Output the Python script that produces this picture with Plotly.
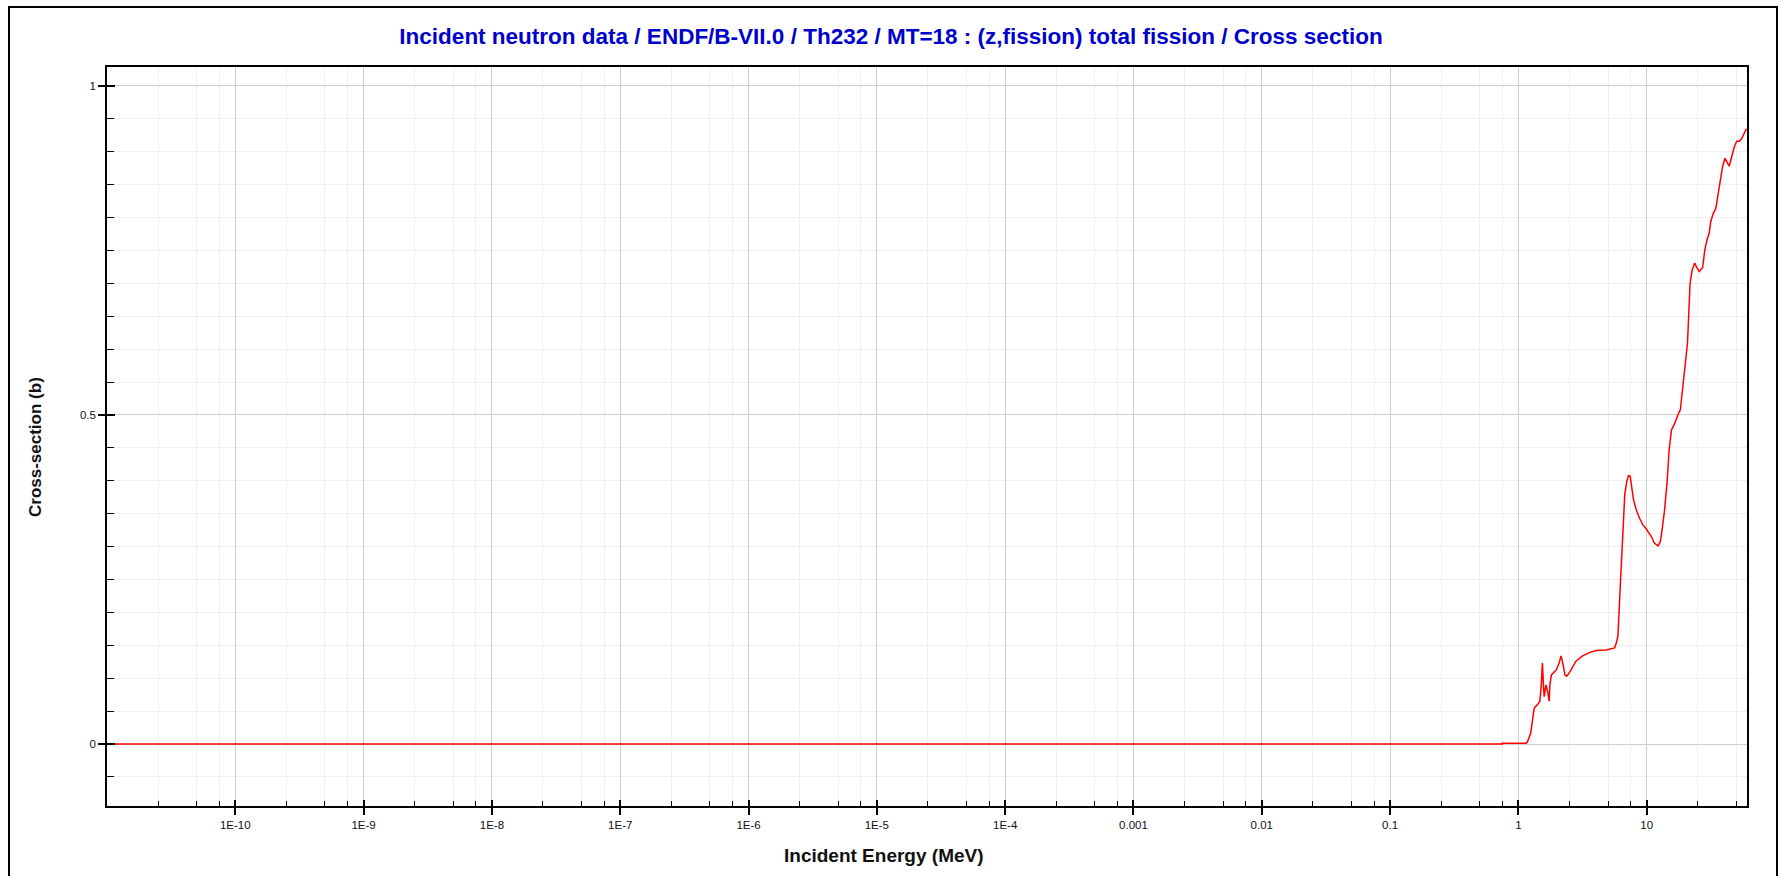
import plotly.graph_objects as go

# ---------------- data ----------------
energy_mev = [1e-11, 0.75, 0.75, 1.15, 1.176, 1.25, 1.29, 1.33, 1.41, 1.47, 1.51, 1.54,
              1.57, 1.59, 1.64, 1.69, 1.74, 1.76, 1.81, 1.90, 1.98, 2.08, 2.15, 2.22,
              2.31, 2.38, 2.53, 2.81, 3.17, 3.58, 4.03, 4.83, 5.62, 5.79, 5.97, 6.13,
              6.32, 6.45, 6.59, 6.75, 7.0, 7.22, 7.44, 7.62, 7.9, 8.3, 8.8, 9.34, 10.0,
              10.9, 11.5, 12.3, 12.8, 13.3, 13.8, 14.4, 14.97, 15.6, 16.6, 17.5, 18.3,
              18.9, 19.8, 20.8, 21.3, 21.8, 22.6, 23.7, 24.6, 25.7, 27.3, 28.4, 29.6,
              30.7, 31.6, 33.0, 34.6, 35.8, 37.3, 38.2, 39.1, 40.8, 42.3, 44.0, 45.9,
              48.3, 50.3, 52.8, 55.0, 57.5, 60.0]
cross_section_b = [0.0, 0.0, 0.0012, 0.0012, 0.003, 0.017, 0.037, 0.055, 0.060, 0.065, 0.090, 0.123,
                   0.088, 0.072, 0.090, 0.080, 0.065, 0.090, 0.105, 0.110, 0.113, 0.123, 0.134, 0.123,
                   0.105, 0.103, 0.110, 0.126, 0.134, 0.139, 0.142, 0.143, 0.146, 0.153, 0.164, 0.212,
                   0.265, 0.303, 0.351, 0.379, 0.399, 0.408, 0.407, 0.389, 0.371, 0.356, 0.343, 0.333, 0.326,
                   0.315, 0.305, 0.301, 0.308, 0.331, 0.356, 0.396, 0.447, 0.477, 0.488, 0.500, 0.508,
                   0.533, 0.566, 0.609, 0.655, 0.700, 0.720, 0.731, 0.724, 0.718, 0.724, 0.751, 0.767,
                   0.776, 0.794, 0.806, 0.814, 0.832, 0.847, 0.862, 0.878, 0.890, 0.885, 0.878, 0.892,
                   0.908, 0.916, 0.916, 0.920, 0.928, 0.935]

x_major_vals = [1e-10, 1e-9, 1e-8, 1e-7, 1e-6, 1e-5, 1e-4, 1e-3, 1e-2, 1e-1, 1, 10]
x_major_text = ["1E-10", "1E-9", "1E-8", "1E-7", "1E-6", "1E-5", "1E-4",
                "0.001", "0.01", "0.1", "1", "10"]
x_decades = [1e-11] + x_major_vals
x_minor_factors = [2.5, 5, 7.5]
x_minor_vals = [d * f for d in x_decades for f in x_minor_factors]

y_major_vals = [0, 0.5, 1]
y_major_text = ["0", "0.5", "1"]

title_text = "Incident neutron data / ENDF/B-VII.0 / Th232 / MT=18 : (z,fission) total fission / Cross section"
x_title = "Incident Energy (MeV)"
y_title = "Cross-section (b)"

x_range_log = [-11.0, 1.782]
y_range = [-0.0941, 1.0287]

# ---------------- layout geometry (pixels) ----------------
W, H = 1782, 876
ML, MR, MT, MB = 107, 35, 67, 70
pw, ph = W - ML - MR, H - MT - MB

def px_to_paper_x(px):
    return (px - ML) / pw

def px_to_paper_y(py):
    return (H - MB - py) / ph

FONT = "Liberation Sans, Arial, sans-serif"

fig = go.Figure()
fig.add_trace(go.Scatter(
    x=energy_mev, y=cross_section_b, mode="lines",
    line=dict(color="#ff0000", width=1.5), showlegend=False,
))
# helper trace so the overlay axes (inner halves of the major ticks) are drawn
fig.add_trace(go.Scatter(
    x=energy_mev, y=cross_section_b, mode="lines", xaxis="x2", yaxis="y2",
    line=dict(color="rgba(0,0,0,0)", width=0), showlegend=False, hoverinfo="skip",
))

fig.update_layout(
    width=W, height=H,
    margin=dict(l=ML, r=MR, t=MT, b=MB),
    paper_bgcolor="white", plot_bgcolor="white",
    font=dict(family=FONT, size=11.5, color="#111111"),
    title=dict(text="<b>" + title_text + "</b>", x=0.5, xref="container", xanchor="center",
               y=1 - 36 / H, yref="container", yanchor="middle",
               font=dict(family=FONT, size=22.5, color="#0000cc")),
    xaxis=dict(
        type="log", range=x_range_log,
        tickmode="array", tickvals=x_major_vals, ticktext=x_major_text,
        ticks="outside", ticklen=7, tickwidth=1.5, tickcolor="#000000",
        showgrid=True, gridcolor="#cdcdcd", gridwidth=1.2,
        minor=dict(tickmode="array", tickvals=x_minor_vals, ticks="inside", ticklen=5,
                   tickwidth=1.3, tickcolor="#000000",
                   showgrid=True, gridcolor="#efefef", gridwidth=1),
        showline=True, linecolor="#000000", linewidth=1.6, mirror=True,
        zeroline=False, tickfont=dict(family=FONT, size=11.5, color="#111111"),
    ),
    yaxis=dict(
        range=y_range,
        tickmode="array", tickvals=y_major_vals, ticktext=y_major_text,
        ticks="outside", ticklen=7, tickwidth=1.5, tickcolor="#000000",
        showgrid=True, gridcolor="#cdcdcd", gridwidth=1.2,
        minor=dict(dtick=0.05, tick0=0, ticks="inside", ticklen=7, tickwidth=1.3,
                   tickcolor="#000000", showgrid=True, gridcolor="#efefef", gridwidth=1),
        showline=True, linecolor="#000000", linewidth=1.6, mirror=True,
        zeroline=False, tickfont=dict(family=FONT, size=11.5, color="#111111"),
    ),
    xaxis2=dict(
        type="log", range=x_range_log, overlaying="x", anchor="y", side="bottom",
        tickmode="array", tickvals=x_major_vals, ticks="inside", ticklen=6,
        tickwidth=1.5, tickcolor="#000000", showticklabels=False,
        showgrid=False, showline=False, zeroline=False,
    ),
    yaxis2=dict(
        range=y_range, overlaying="y", anchor="x", side="left",
        tickmode="array", tickvals=y_major_vals, ticks="inside", ticklen=8,
        tickwidth=1.5, tickcolor="#000000", showticklabels=False,
        showgrid=False, showline=False, zeroline=False,
    ),
    showlegend=False,
)

fig.add_annotation(text="<b>" + x_title + "</b>", xref="paper", yref="paper",
                   x=px_to_paper_x(884), y=px_to_paper_y(855), showarrow=False,
                   xanchor="center", yanchor="middle",
                   font=dict(family=FONT, size=19, color="#111111"))
fig.add_annotation(text="<b>" + y_title + "</b>", xref="paper", yref="paper",
                   x=px_to_paper_x(35), y=px_to_paper_y(447), showarrow=False,
                   xanchor="center", yanchor="middle", textangle=-90,
                   font=dict(family=FONT, size=17, color="#111111"))

# outer frame around the whole picture
fig.add_shape(type="rect", xref="paper", yref="paper",
              x0=px_to_paper_x(9), x1=px_to_paper_x(1777),
              y0=px_to_paper_y(H + 20), y1=px_to_paper_y(7),
              line=dict(color="#000000", width=2), fillcolor="rgba(0,0,0,0)", layer="above")

fig.write_html("out.html")
